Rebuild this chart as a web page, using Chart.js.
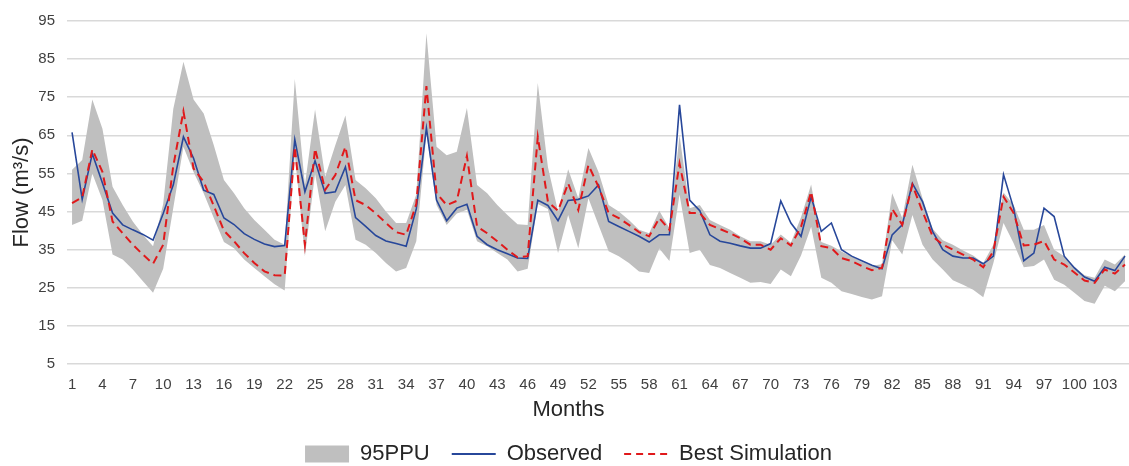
<!DOCTYPE html>
<html>
<head>
<meta charset="utf-8">
<script src="https://cdn.jsdelivr.net/npm/chart.js@4.4.1/dist/chart.umd.min.js"></script>
<style>
  html, body { margin: 0; padding: 0; background: #ffffff; overflow: hidden; }
  #wrap { width: 1129px; height: 466px; overflow: hidden; }
</style>
</head>
<body>
<div id="wrap"><canvas id="c" width="1137" height="466"></canvas></div>
<script>
const months = ['1','2','3','4','5','6','7','8','9','10','11','12','13','14','15','16','17','18','19','20',
  '21','22','23','24','25','26','27','28','29','30','31','32','33','34','35','36','37','38','39','40',
  '41','42','43','44','45','46','47','48','49','50','51','52','53','54','55','56','57','58','59','60',
  '61','62','63','64','65','66','67','68','69','70','71','72','73','74','75','76','77','78','79','80',
  '81','82','83','84','85','86','87','88','89','90','91','92','93','94','95','96','97','98','99','100',
  '101','102','103','104','105'];

const observed = [65.8,48.2,60.2,52.5,44.6,41.5,40.2,39.0,37.5,44.5,
  52.0,64.6,59.0,50.6,49.5,43.3,41.6,39.2,37.7,36.5,
  35.8,36.1,63.9,50.2,58.3,49.8,50.2,56.7,43.4,41.1,
  38.7,37.3,36.6,35.9,45.7,66.9,48.0,42.6,45.9,46.9,
  38.5,36.3,35.0,33.9,32.8,32.7,48.0,46.6,42.6,47.9,
  48.2,49.1,52.0,42.4,41.1,39.8,38.5,37.0,38.9,38.9,
  73.0,48.0,45.2,38.9,37.2,36.7,36.0,35.4,35.4,36.6,
  47.8,42.0,38.5,48.9,39.8,42.0,35.0,33.3,32.1,30.9,
  30.0,38.9,41.5,52.4,47.6,39.8,35.0,33.3,32.8,32.8,
  31.3,33.3,54.7,45.9,32.1,34.1,45.9,43.7,33.3,30.2,
  27.8,26.7,30.4,29.5,33.3];

const bestSimulation = [47.2,48.7,61.3,55.4,42.4,39.3,36.3,33.7,31.3,36.3,
  57.0,71.3,56.3,52.8,46.5,40.0,37.2,34.1,31.5,29.3,
  28.3,28.2,62.0,36.3,61.5,50.7,54.6,62.0,48.0,46.7,
  44.5,42.0,39.6,38.9,47.0,77.9,49.8,46.7,47.8,59.6,
  41.1,39.3,37.2,35.0,33.0,33.3,64.6,47.6,45.2,52.4,
  45.4,57.2,51.5,44.6,43.3,41.5,39.6,38.5,43.3,40.2,
  57.6,44.6,44.6,41.5,40.4,39.3,38.0,36.3,36.3,35.0,
  38.0,36.1,41.0,50.2,35.9,35.4,32.8,32.0,30.7,29.6,
  30.2,45.7,41.5,52.0,45.0,38.5,36.3,35.0,33.7,32.4,
  30.4,34.6,48.9,44.6,36.1,36.3,37.3,32.4,31.1,29.0,
  26.9,26.3,29.8,28.7,31.1];

const ppuUpper = [56.0,58.5,74.4,66.7,51.5,46.7,42.4,38.9,35.9,47.0,
  72.0,84.3,74.4,70.7,62.4,53.3,49.8,45.9,42.8,40.2,
  37.6,36.3,79.8,52.0,71.8,54.1,62.4,70.2,53.3,51.1,
  48.5,45.0,42.0,42.0,49.5,91.8,62.0,59.8,60.7,72.2,
  52.0,49.8,46.7,44.1,41.7,41.5,78.7,56.7,45.0,56.1,
  48.5,61.7,55.4,46.7,45.0,42.8,40.2,39.3,45.2,40.6,
  65.0,45.9,46.7,42.8,41.5,40.2,38.5,37.2,37.2,36.3,
  39.0,36.8,43.5,52.1,37.0,36.0,34.5,33.2,31.8,30.8,
  31.2,49.8,43.3,57.3,48.5,40.5,37.5,36.3,34.8,33.5,
  31.5,36.3,50.0,46.7,40.2,40.2,41.5,35.0,33.3,30.5,
  28.3,27.6,32.4,31.1,33.7];

const ppuLower = [41.5,42.6,55.0,48.0,33.7,32.4,29.8,26.7,23.7,30.0,
  46.0,62.0,55.4,49.8,43.3,37.0,35.4,32.4,30.2,28.0,
  25.9,24.3,60.0,33.3,55.0,39.8,47.6,52.0,37.6,36.3,
  34.1,31.5,29.3,30.2,37.2,65.5,46.7,41.5,44.5,45.5,
  37.2,35.9,34.1,32.4,29.3,30.0,47.0,45.7,34.1,44.1,
  35.4,48.5,41.5,34.6,33.3,31.5,29.3,28.9,35.3,32.0,
  49.5,34.1,35.0,31.0,30.2,28.9,27.6,26.3,26.5,26.0,
  29.8,28.0,33.5,41.0,27.6,26.3,24.1,23.4,22.6,21.9,
  22.8,37.5,33.7,44.1,36.3,32.4,29.8,27.0,25.8,24.5,
  22.5,31.5,42.0,36.7,30.4,30.7,32.4,27.1,25.8,23.7,
  21.5,20.8,25.5,24.1,26.7];

const FONT = "'Liberation Sans', Arial, sans-serif";
const TXT = '#262626';
const GRAY = '#BFBFBF';
const BLUE = '#27479A';
const RED = '#E0191B';

new Chart(document.getElementById('c'), {
  type: 'line',
  data: {
    labels: months,
    datasets: [
      { label: '95PPU', data: ppuUpper, borderWidth: 0, pointRadius: 0, backgroundColor: GRAY, borderColor: GRAY, fill: '+1', order: 3, tension: 0 },
      { label: '95PPU lower', data: ppuLower, borderWidth: 0, pointRadius: 0, backgroundColor: GRAY, borderColor: GRAY, fill: false, order: 3, tension: 0 },
      { label: 'Observed', data: observed, borderColor: BLUE, borderWidth: 1.6, pointRadius: 0, fill: false, order: 2, tension: 0 },
      { label: 'Best Simulation', data: bestSimulation, borderColor: RED, borderWidth: 2, borderDash: [8, 5], pointRadius: 0, fill: false, order: 1, tension: 0 }
    ]
  },
  options: {
    responsive: false,
    animation: false,
    devicePixelRatio: 1,
    layout: { padding: { top: 18, right: 0, bottom: -9, left: 0 } },
    plugins: {
      tooltip: { enabled: false },
      legend: {
        position: 'bottom',
        labels: {
          font: { family: FONT, size: 22 },
          color: TXT,
          padding: 22,
          boxWidth: 44,
          boxHeight: 17,
          usePointStyle: true,
          pointStyleWidth: 44,
          generateLabels: () => [
            { text: '95PPU', fillStyle: GRAY, strokeStyle: GRAY, lineWidth: 0, pointStyle: 'rect', datasetIndex: 0, fontColor: TXT },
            { text: 'Observed', fillStyle: BLUE, strokeStyle: BLUE, lineWidth: 2, pointStyle: 'line', datasetIndex: 2, fontColor: TXT },
            { text: 'Best Simulation', fillStyle: RED, strokeStyle: RED, lineWidth: 2, lineDash: [7, 5], pointStyle: 'line', datasetIndex: 3, fontColor: TXT }
          ]
        }
      },
      title: {
        display: true,
        position: 'bottom',
        weight: 500,
        text: 'Months',
        font: { family: FONT, size: 22, weight: 'normal', lineHeight: 1.0 },
        color: TXT,
        padding: { top: 5, bottom: 0 }
      }
    },
    scales: {
      x: {
        offset: true,
        grid: { display: false, drawTicks: false },
        border: { display: false },
        ticks: {
          autoSkip: false, maxRotation: 0, minRotation: 0,
          font: { family: FONT, size: 15 }, color: '#404040', padding: 12,
          callback: (v, i) => (i % 3 === 0 ? months[i] : '')
        },
        afterFit: (s) => { s.height = 30; }
      },
      y: {
        min: 5, max: 95,
        ticks: { stepSize: 10, font: { family: FONT, size: 15 }, color: '#404040', padding: 12 },
        grid: { color: '#D9D9D9', lineWidth: 1.5, drawTicks: false },
        border: { display: false },
        title: { display: true, text: 'Flow (m³/s)', font: { family: FONT, size: 22 }, color: TXT, padding: { top: 9, bottom: 0 } },
        afterFit: (s) => { s.width = 67; }
      }
    }
  }
});
</script>
</body>
</html>
